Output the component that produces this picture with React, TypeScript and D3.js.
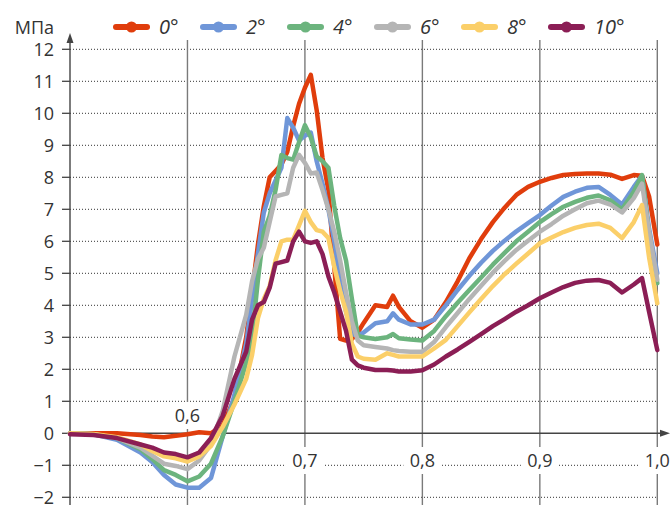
import React from "react";
import * as d3 from "d3";

const X = [0.50, 0.52, 0.54, 0.56, 0.57, 0.58, 0.59, 0.60, 0.61, 0.62, 0.63, 0.64, 0.65, 0.655, 0.66, 0.665, 0.67, 0.675, 0.68, 0.685, 0.69, 0.695, 0.70, 0.705, 0.71, 0.715, 0.72, 0.725, 0.73, 0.735, 0.74, 0.745, 0.75, 0.76, 0.77, 0.775, 0.78, 0.79, 0.80, 0.81, 0.82, 0.83, 0.84, 0.85, 0.86, 0.87, 0.88, 0.89, 0.90, 0.91, 0.92, 0.93, 0.94, 0.95, 0.96, 0.97, 0.98, 0.987, 0.993, 1.00];

const deg0 = [0, 0, 0, -0.05, -0.1, -0.12, -0.08, -0.03, 0.03, 0, 0.25, 1.1, 3.0, 4.4, 5.9, 7.1, 8.0, 8.2, 8.4, 8.8, 9.6, 10.3, 10.8, 11.2, 10.1, 8.6, 7.6, 5.2, 2.95, 2.9, 2.95, 3.15, 3.45, 4.0, 3.95, 4.3, 3.95, 3.5, 3.3, 3.55, 4.1, 4.75, 5.47, 6.07, 6.6, 7.05, 7.45, 7.7, 7.86, 7.98, 8.07, 8.1, 8.12, 8.12, 8.08, 7.95, 8.07, 8.05, 7.4, 5.9];
const deg2 = [0, -0.03, -0.2, -0.6, -0.9, -1.3, -1.6, -1.7, -1.7, -1.4, -0.1, 1.2, 2.8, 4.2, 5.6, 6.9, 7.5, 7.9, 8.3, 9.85, 9.55, 9.15, 9.3, 9.4, 8.5, 7.8, 7.0, 6.0, 4.7, 3.8, 3.1, 3.05, 3.15, 3.44, 3.5, 3.75, 3.55, 3.4, 3.4, 3.55, 4.0, 4.48, 4.92, 5.33, 5.7, 6.02, 6.31, 6.57, 6.82, 7.12, 7.39, 7.55, 7.67, 7.7, 7.45, 7.15, 7.7, 8.05, 6.4, 5.0];
const deg4 = [0, -0.03, -0.15, -0.5, -0.8, -1.15, -1.3, -1.5, -1.35, -0.95, -0.1, 1.0, 2.2, 3.0, 4.8, 6.3, 6.8, 7.6, 8.7, 8.6, 8.55, 9.1, 9.63, 9.25, 8.65, 8.5, 8.3, 7.1, 6.1, 5.4, 4.2, 3.05, 3.0, 2.95, 3.0, 3.1, 2.97, 2.93, 2.9, 3.2, 3.66, 4.08, 4.48, 4.87, 5.27, 5.64, 6.0, 6.3, 6.6, 6.85, 7.08, 7.23, 7.36, 7.43, 7.28, 7.0, 7.55, 8.07, 6.2, 4.69];
const deg6 = [0, -0.03, -0.15, -0.45, -0.7, -0.95, -1.02, -1.12, -0.85, -0.35, 0.7, 2.4, 3.7, 4.75, 5.45, 5.8, 6.6, 7.4, 7.45, 7.5, 8.3, 8.7, 8.45, 8.12, 8.15, 7.6, 7.0, 6.3, 5.4, 4.4, 3.5, 2.9, 2.75, 2.7, 2.65, 2.6, 2.57, 2.55, 2.55, 2.85, 3.32, 3.76, 4.2, 4.61, 5.02, 5.39, 5.73, 6.02, 6.3, 6.54, 6.8, 7.0, 7.19, 7.27, 7.15, 6.9, 7.35, 7.8, 6.3, 4.8];
const deg8 = [0, -0.02, -0.12, -0.35, -0.55, -0.72, -0.78, -0.88, -0.72, -0.4, 0.2, 0.9, 1.7, 2.45, 3.6, 4.2, 4.6, 5.4, 6.0, 6.05, 6.05, 6.5, 6.95, 6.6, 6.35, 6.3, 6.1, 5.2, 4.45, 3.8, 2.8, 2.4, 2.33, 2.3, 2.5, 2.45, 2.4, 2.4, 2.4, 2.65, 2.92, 3.35, 3.78, 4.2, 4.6, 4.97, 5.3, 5.62, 5.94, 6.12, 6.29, 6.42, 6.51, 6.55, 6.42, 6.1, 6.6, 7.13, 5.5, 4.06];
const deg10 = [-0.03, -0.05, -0.15, -0.35, -0.45, -0.6, -0.65, -0.75, -0.6, -0.15, 0.55, 1.7, 2.55, 3.55, 4.0, 4.1, 4.55, 5.3, 5.35, 5.4, 6.0, 6.3, 6.0, 5.95, 6.0, 5.6, 4.9, 4.4, 3.8, 3.2, 2.3, 2.12, 2.05, 1.98, 1.98, 1.96, 1.93, 1.93, 1.97, 2.15, 2.4, 2.62, 2.86, 3.1, 3.35, 3.57, 3.8, 4.0, 4.22, 4.4, 4.57, 4.7, 4.77, 4.79, 4.7, 4.4, 4.65, 4.85, 3.8, 2.6];

const seriesNames = ["0°", "2°", "4°", "6°", "8°", "10°"];
const seriesValues = [deg0, deg2, deg4, deg6, deg8, deg10];
const seriesColors = ["#e03d0c", "#6f96d8", "#6cb47e", "#b5b5b5", "#fbcf69", "#8b1e55"];

const yTicks = [-2, -1, 0, 1, 2, 3, 4, 5, 6, 7, 8, 9, 10, 11, 12];
const yTickLabels = ["−2", "−1", "0", "1", "2", "3", "4", "5", "6", "7", "8", "9", "10", "11", "12"];
const xTicks = [0.6, 0.7, 0.8, 0.9, 1.0];
const xTickLabels = ["0,6", "0,7", "0,8", "0,9", "1,0"];
const yUnit = "МПа";

const FONT = "'Open Sans', 'Noto Sans', sans-serif";

export default function App() {
  const x = d3.scaleLinear().domain([0.5, 1.0]).range([70, 657.3]);
  const y = d3.scaleLinear().domain([-2, 12]).range([497.3, 49.3]);
  const line = d3
    .line<number>()
    .x((_, i) => x(X[i]))
    .y((d) => y(d));

  const axisX = x(0.5);
  const axisY = y(0);

  return (
    <svg
      width={670}
      height={505}
      style={{ position: "absolute", left: 0, top: 0, display: "block", background: "#fff" }}
      fontFamily={FONT}
    >
      {/* horizontal dotted grid */}
      {yTicks.filter((t) => t !== 0).map((t) => (
        <line key={"g" + t} x1={axisX} x2={x(1.0)} y1={y(t)} y2={y(t)} stroke="#333" strokeWidth={1} strokeDasharray="1 2" />
      ))}
      {/* vertical lines */}
      {xTicks.map((t) => (
        <line key={"v" + t} x1={x(t)} x2={x(t)} y1={40} y2={505} stroke="#7a7a7a" strokeWidth={1.4} />
      ))}
      {/* x labels with white background */}
      {xTicks.map((t, i) => {
        const first = i === 0;
        const cy = first ? 415 : 460;
        return (
          <g key={"xl" + t}>
            <rect x={x(t) - 19} y={cy - 13} width={38} height={27} fill="#fff" />
            <text x={x(t)} y={cy + 6.5} textAnchor="middle" fontSize={18} fill="#333">
              {xTickLabels[i]}
            </text>
          </g>
        );
      })}
      {/* y axis ticks and labels */}
      {yTicks.map((t, i) => (
        <g key={"yt" + t}>
          <line x1={axisX - 8} x2={axisX} y1={y(t)} y2={y(t)} stroke="#444" strokeWidth={1.3} />
          <text x={54} y={y(t) + 6.5} textAnchor="end" fontSize={18} fill="#333">
            {yTickLabels[i]}
          </text>
        </g>
      ))}
      <text x={54} y={34} textAnchor="end" fontSize={18} fill="#333">{yUnit}</text>
      {/* axes */}
      <line x1={axisX} x2={axisX} y1={505} y2={40} stroke="#444" strokeWidth={1.4} />
      <path d={`M${axisX},33 L${axisX - 3.5},43 L${axisX + 3.5},43 Z`} fill="#444" />
      <line x1={axisX} x2={663} y1={axisY} y2={axisY} stroke="#444" strokeWidth={1.4} />
      <path d={`M670,${axisY} L660,${axisY - 3.5} L660,${axisY + 3.5} Z`} fill="#444" />
      {/* series */}
      {seriesValues.map((vals, i) => (
        <path
          key={"s" + i}
          d={line(vals) || ""}
          fill="none"
          stroke={seriesColors[i]}
          strokeWidth={4.5}
          strokeLinejoin="round"
          strokeLinecap="round"
        />
      ))}
      {/* legend */}
      {seriesNames.map((n, i) => {
        const lx = 116 + i * 87;
        return (
          <g key={"lg" + i}>
            <line x1={lx} x2={lx + 31} y1={27} y2={27} stroke={seriesColors[i]} strokeWidth={6} strokeLinecap="round" />
            <circle cx={lx + 15.5} cy={27} r={5.5} fill={seriesColors[i]} />
            <text x={lx + 43} y={34} fontSize={20} fontStyle="italic" fill="#333">
              {n}
            </text>
          </g>
        );
      })}
    </svg>
  );
}
